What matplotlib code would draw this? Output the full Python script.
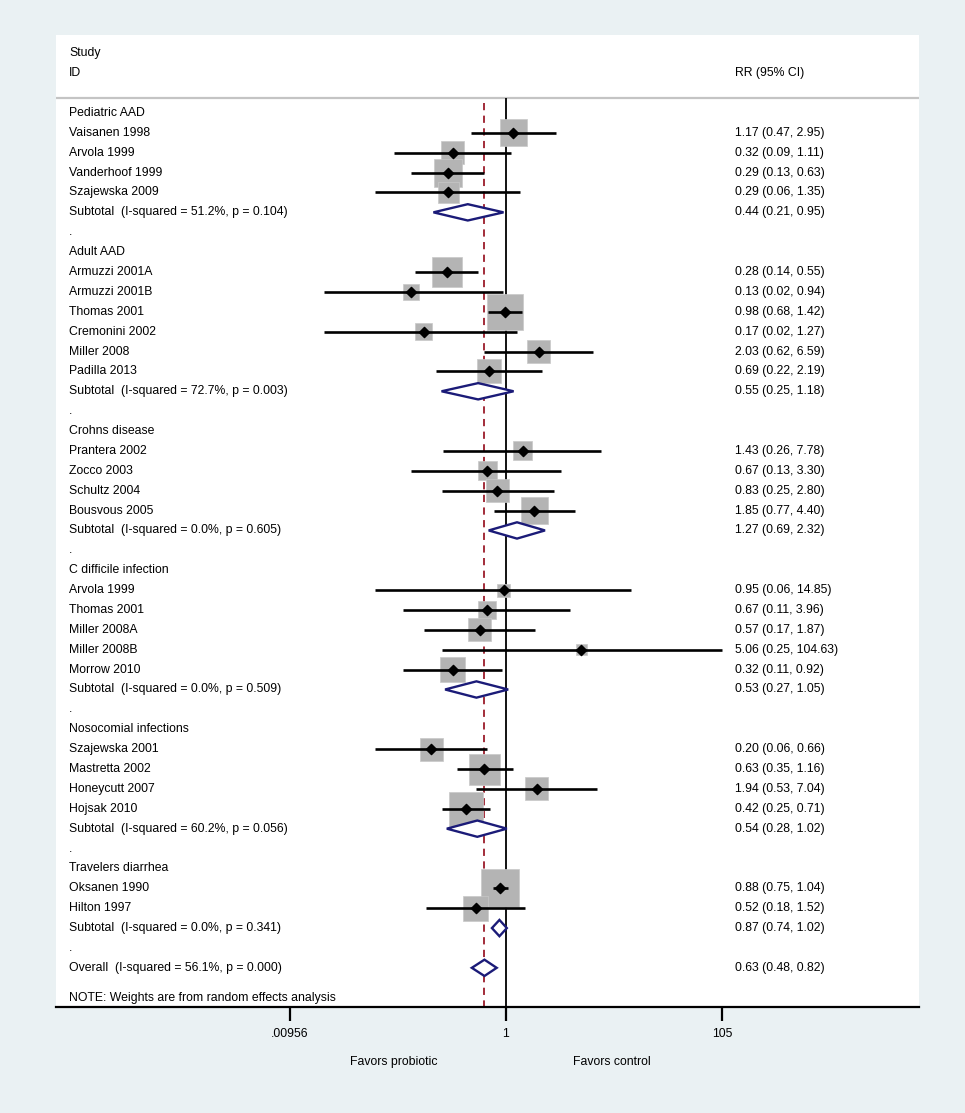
import numpy as np
import matplotlib.pyplot as plt
from matplotlib.ticker import NullLocator
from matplotlib.patches import Polygon

plt.rcParams['font.family'] = ['Liberation Sans', 'DejaVu Sans']

# subgroups
groups = ["Pediatric AAD", "Adult AAD", "Crohns disease", "C difficile infection",
          "Nosocomial infections", "Travelers diarrhea"]

# individual studies
study_names = ["Vaisanen 1998", "Arvola 1999", "Vanderhoof 1999", "Szajewska 2009",
               "Armuzzi 2001A", "Armuzzi 2001B", "Thomas 2001", "Cremonini 2002", "Miller 2008", "Padilla 2013",
               "Prantera 2002", "Zocco 2003", "Schultz 2004", "Bousvous 2005",
               "Arvola 1999", "Thomas 2001", "Miller 2008A", "Miller 2008B", "Morrow 2010",
               "Szajewska 2001", "Mastretta 2002", "Honeycutt 2007", "Hojsak 2010",
               "Oksanen 1990", "Hilton 1997"]
study_group = [0, 0, 0, 0, 1, 1, 1, 1, 1, 1, 2, 2, 2, 2, 3, 3, 3, 3, 3, 4, 4, 4, 4, 5, 5]
rr = [1.17, 0.32, 0.29, 0.29, 0.28, 0.13, 0.98, 0.17, 2.03, 0.69,
      1.43, 0.67, 0.83, 1.85, 0.95, 0.67, 0.57, 5.06, 0.32,
      0.20, 0.63, 1.94, 0.42, 0.88, 0.52]
ci_lo = [0.47, 0.09, 0.13, 0.06, 0.14, 0.02, 0.68, 0.02, 0.62, 0.22,
         0.26, 0.13, 0.25, 0.77, 0.06, 0.11, 0.17, 0.25, 0.11,
         0.06, 0.35, 0.53, 0.25, 0.75, 0.18]
ci_hi = [2.95, 1.11, 0.63, 1.35, 0.55, 0.94, 1.42, 1.27, 6.59, 2.19,
         7.78, 3.30, 2.80, 4.40, 14.85, 3.96, 1.87, 104.63, 0.92,
         0.66, 1.16, 7.04, 0.71, 1.04, 1.52]
# % weight (random effects)
weights = [4.76, 3.45, 5.12, 2.88, 5.87, 1.67, 8.46, 1.89, 3.45, 3.76,
           2.36, 2.36, 3.45, 4.76, 1.10, 2.11, 3.45, 0.79, 4.08,
           3.45, 6.27, 3.45, 7.55, 9.42, 4.08]

# subgroup pooled estimates
sub_rr = [0.44, 0.55, 1.27, 0.53, 0.54, 0.87]
sub_lo = [0.21, 0.25, 0.69, 0.27, 0.28, 0.74]
sub_hi = [0.95, 1.18, 2.32, 1.05, 1.02, 1.02]
sub_i2 = [51.2, 72.7, 0.0, 0.0, 60.2, 0.0]
sub_p = [0.104, 0.003, 0.605, 0.509, 0.056, 0.341]

overall_rr, overall_lo, overall_hi = 0.63, 0.48, 0.82
overall_i2, overall_p = 56.1, 0.000

xtick_vals = [0.00956, 1, 105]
xtick_labels = [".00956", "1", "105"]

W, H = 965, 1113
fig = plt.figure(figsize=(W / 100, H / 100), dpi=100, facecolor='#EAF1F3')
ax = fig.add_axes([56 / W, 1 - 1007 / H, (919 - 56) / W, (1007 - 35) / H])
ax.set_facecolor('white')
ax.set_xscale('log')
ax.set_xlim(6.2e-5, 7300)
ax.set_ylim(44.97, -3.92)

fs = 8.8
lab_x = 0.015
rr_x = 0.787
trans = ax.get_yaxis_transform()  # x in axes fraction, y in data

# lay out rows
i = 0
study_rows = []
sub_rows = []
for g, gname in enumerate(groups):
    ax.text(lab_x, i, gname, transform=trans, fontsize=fs, va='center')
    i += 1
    for k in range(len(study_names)):
        if study_group[k] == g:
            study_rows.append(i)
            ax.text(lab_x, i, study_names[k], transform=trans, fontsize=fs, va='center')
            ax.text(rr_x, i, "%.2f (%.2f, %.2f)" % (rr[k], ci_lo[k], ci_hi[k]),
                    transform=trans, fontsize=fs, va='center')
            i += 1
    sub_rows.append(i)
    ax.text(lab_x, i, "Subtotal  (I-squared = %.1f%%, p = %.3f)" % (sub_i2[g], sub_p[g]),
            transform=trans, fontsize=fs, va='center')
    ax.text(rr_x, i, "%.2f (%.2f, %.2f)" % (sub_rr[g], sub_lo[g], sub_hi[g]),
            transform=trans, fontsize=fs, va='center')
    i += 1
    ax.text(lab_x, i, ".", transform=trans, fontsize=fs, va='center')
    i += 1
overall_row = i

ax.text(lab_x, overall_row, "Overall  (I-squared = %.1f%%, p = %.3f)" % (overall_i2, overall_p),
        transform=trans, fontsize=fs, va='center')
ax.text(rr_x, overall_row, "%.2f (%.2f, %.2f)" % (overall_rr, overall_lo, overall_hi),
        transform=trans, fontsize=fs, va='center')
ax.text(lab_x, overall_row + 1.5, "NOTE: Weights are from random effects analysis",
        transform=trans, fontsize=fs, va='center')

# header
ax.text(lab_x, -3, "Study", transform=trans, fontsize=fs, va='center')
ax.text(lab_x, -2, "ID", transform=trans, fontsize=fs, va='center')
ax.text(rr_x, -2, "RR (95% CI)", transform=trans, fontsize=fs, va='center')
ax.axhline(-0.75, color='#C4C4C4', lw=1.6)

# reference lines
ax.vlines(1, -0.75, 44.97, color='black', lw=1.3, zorder=2)
ax.vlines(overall_rr, -0.5, 44.97, color='#9B1B2A', lw=1.3, linestyles=(0, (4, 3)), zorder=2)

# weight boxes
side_pt = np.sqrt(np.array(weights) * 153.2) * 0.72
ax.scatter(rr, study_rows, s=side_pt ** 2, marker='s', color='#B4B4B4', edgecolors='#C8C8C8',
           linewidths=0.5, zorder=3)
ax.hlines(study_rows, ci_lo, ci_hi, color='black', lw=1.9, zorder=4)
ax.scatter(rr, study_rows, s=27, marker='D', color='black', zorder=5)

# pooled diamonds
h = 0.41
for r, est, lo, hi in zip(sub_rows + [overall_row], sub_rr + [overall_rr],
                          sub_lo + [overall_lo], sub_hi + [overall_hi]):
    ax.add_patch(Polygon([(lo, r), (est, r - h), (hi, r), (est, r + h)], closed=True,
                         facecolor='white', edgecolor='#1B1B78', lw=1.7, zorder=4))

# axis
for s in ['top', 'left', 'right']:
    ax.spines[s].set_visible(False)
ax.spines['bottom'].set_linewidth(1.6)
ax.set_yticks([])
ax.set_xticks(xtick_vals)
ax.set_xticklabels(xtick_labels)
ax.xaxis.set_minor_locator(NullLocator())
ax.tick_params(axis='x', length=10, width=1.6, pad=5, labelsize=fs)

fig.text(394 / W, 1 - 1062 / H, "Favors probiotic", ha='center', va='center', fontsize=fs)
fig.text(612 / W, 1 - 1062 / H, "Favors control", ha='center', va='center', fontsize=fs)

fig.savefig('out.png', dpi=100, facecolor=fig.get_facecolor())
